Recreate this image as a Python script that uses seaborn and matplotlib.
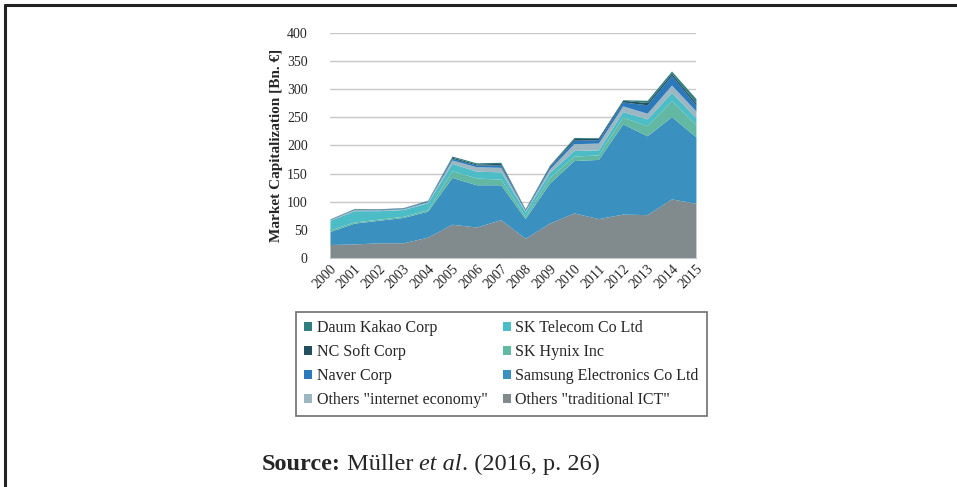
#!/usr/bin/env python

import matplotlib
matplotlib.use("Agg")
import matplotlib.pyplot as plt
from matplotlib.patches import Patch
from matplotlib.lines import Line2D
import seaborn as sns

years = list(range(2000, 2016))

# individual layer values, Bn. EUR
traditional_ict = [24, 25, 27, 27, 37, 60, 55, 68, 35, 62, 80, 70, 78, 77, 105, 97]
samsung = [23, 37, 40, 45, 46, 83, 75, 62, 35, 71, 93, 105, 160, 140, 146, 118]
sk_hynix = [3, 2, 2, 2, 3, 12, 12, 10, 4, 10, 8, 8, 12, 18, 28, 22]
sk_telecom = [17, 20, 15, 12, 12, 13, 12, 13, 8, 9, 10, 9, 10, 12, 15, 12]
internet_economy = [1, 2, 1.5, 1.5, 2, 6, 8, 8, 2, 6, 12, 12, 10, 10, 13, 12]
naver = [0.5, 1, 1, 1, 1.5, 3, 3, 4, 1.5, 4, 6, 6, 7, 15, 17, 10]
nc_soft = [0.5, 0.5, 0.5, 0.5, 0.5, 2, 2, 3, 1, 2, 3, 3, 3, 4, 4, 4]
daum_kakao = [0.5, 0.5, 0.5, 0.5, 0.5, 2, 2, 2, 1, 1, 2, 1, 1, 4, 4, 8]

labels = ['Others "traditional ICT"', "Samsung Electronics Co Ltd", "SK Hynix Inc",
          "SK Telecom Co Ltd", 'Others "internet economy"', "Naver Corp",
          "NC Soft Corp", "Daum Kakao Corp"]
colors = ["#818b8e", "#3a90bf", "#62b8a2", "#4cbcc6", "#9cb6c2", "#2a79bd",
          "#23505f", "#2f7f80"]
series = [traditional_ict, samsung, sk_hynix, sk_telecom, internet_economy,
          naver, nc_soft, daum_kakao]

sns.set_style("white")
plt.rcParams["font.family"] = ["Liberation Serif", "DejaVu Serif"]

fig = plt.figure(figsize=(9.57, 4.87), dpi=100)
ax = fig.add_axes([0.3448, 0.4702, 0.3824, 0.4627])

ax.stackplot(years, *series, colors=colors, labels=labels, linewidth=0)

ax.set_xlim(2000, 2015)
ax.set_ylim(0, 400)
ax.set_yticks(range(0, 401, 50))
ax.set_xticks(years)
ax.set_xticklabels([str(y) for y in years], rotation=45, ha="right",
                   rotation_mode="anchor", fontsize=10)
ax.tick_params(axis="y", labelsize=10, length=0, pad=16)
ax.tick_params(axis="x", length=0, pad=3)
ax.yaxis.grid(True, color="#c8c8c8", linewidth=1)
ax.set_axisbelow(True)
for s in ["top", "right", "left"]:
    ax.spines[s].set_visible(False)
ax.spines["bottom"].set_color("#c8c8c8")
ax.set_ylabel("Market Capitalization [Bn. \u20ac]", fontsize=11,
              fontweight="bold", labelpad=3)

# legend, column-wise like the original
order = [7, 6, 5, 4, 3, 2, 1, 0]
handles = [Patch(facecolor=colors[i], edgecolor="none") for i in order]
leg = fig.legend(handles, [labels[i] for i in order], ncol=2,
                 loc="upper left", bbox_to_anchor=(296 / 957, 1 - 312 / 487),
                 fontsize=11.5, frameon=True, fancybox=False,
                 handlelength=0.5, handleheight=0.5, handletextpad=0.3,
                 columnspacing=0.95, labelspacing=0.5, borderpad=0.5,
                 borderaxespad=0)
leg.get_frame().set_edgecolor("#4a4a4a")
leg.get_frame().set_linewidth(1.2)

# source line
fig.canvas.draw()
r = fig.canvas.get_renderer()
x = 262 / 957
y = 1 - 470 / 487
parts = [("Source:", "bold", "normal"), (" M\u00fcller ", "normal", "normal"),
         ("et al", "normal", "italic"), (". (2016, p. 26)", "normal", "normal")]
for txt, w, st in parts:
    t = fig.text(x, y, txt, fontsize=17.5, fontweight=w, fontstyle=st,
                 ha="left", va="baseline")
    bb = t.get_window_extent(renderer=r)
    x += bb.width / (fig.get_figwidth() * fig.dpi)

# page frame: top and left edges
fig.add_artist(Line2D([5 / 957, 1], [1 - 5 / 487, 1 - 5 / 487],
                      color="#222222", linewidth=2.2))
fig.add_artist(Line2D([5 / 957, 5 / 957], [0, 1 - 5 / 487],
                      color="#222222", linewidth=2.2))

fig.savefig("out.png", dpi=100)
